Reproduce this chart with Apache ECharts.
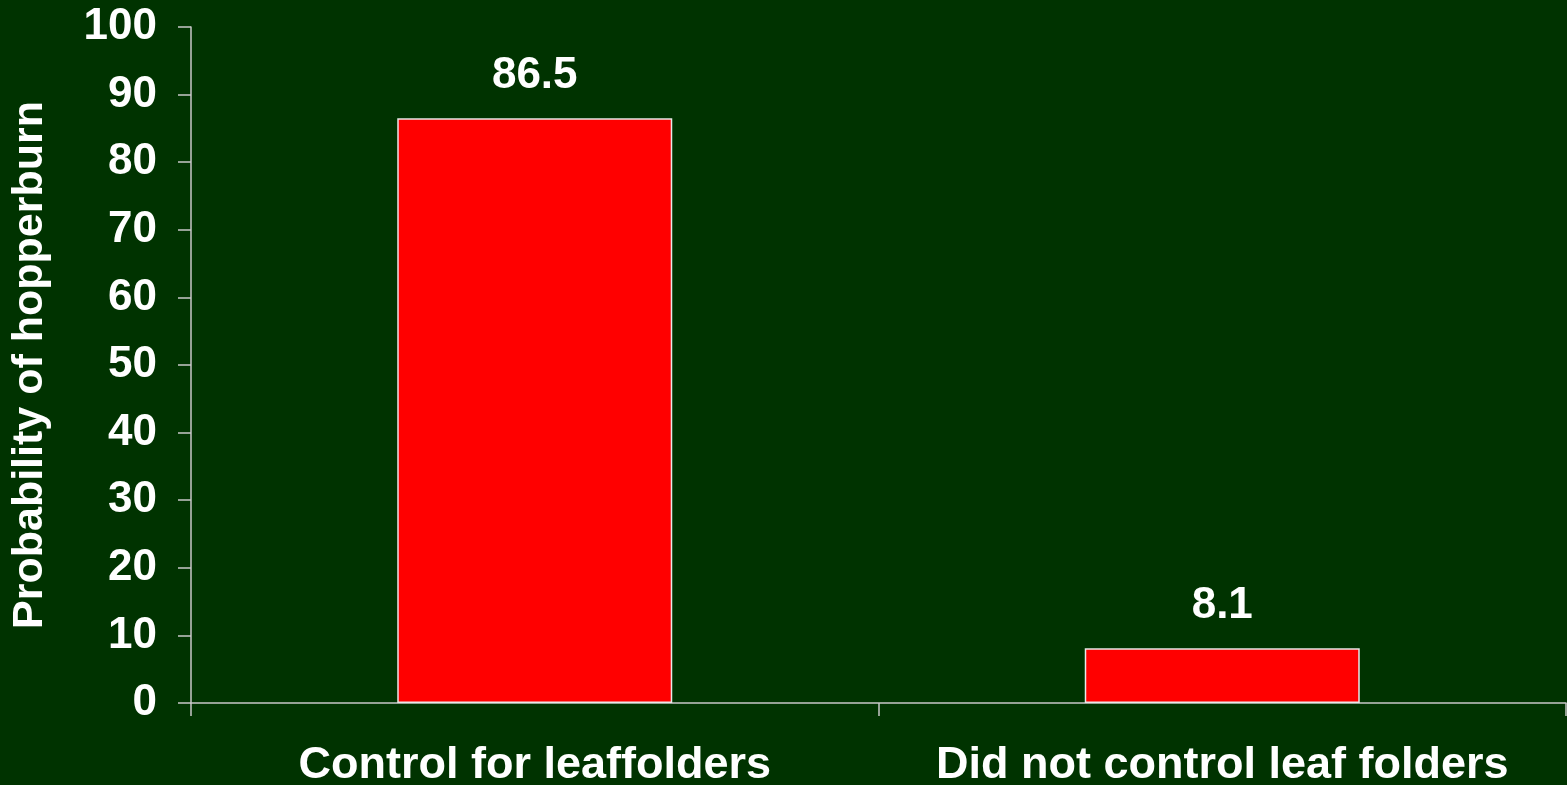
<!DOCTYPE html>
<html>
<head>
<meta charset="utf-8">
<script src="https://cdn.jsdelivr.net/npm/echarts@6/dist/echarts.min.js"></script>
<style>
  html, body { margin: 0; padding: 0; background: #003300; }
  #chart { width: 1567px; height: 785px; }
</style>
</head>
<body>
<div id="chart"></div>
<script>
// Hopperburn probability by leaffolder treatment
const categories = ['Control for leaffolders', 'Did not control leaf folders'];
const probability = [86.5, 8.1];
const yTitle = 'Probability of hopperburn';

const FONT = '"Liberation Sans", Arial, sans-serif';
const AXIS_COLOR = '#c8c8c8';

const chart = echarts.init(document.getElementById('chart'));
chart.setOption({
  backgroundColor: '#003300',
  animation: false,
  grid: { left: 191, right: 1, top: 27, bottom: 82, containLabel: false, outerBoundsMode: 'none' },
  xAxis: {
    type: 'category',
    data: categories,
    boundaryGap: true,
    axisLine: { lineStyle: { color: AXIS_COLOR, width: 1.5 } },
    axisTick: { show: true, length: 13, alignWithLabel: false, lineStyle: { color: AXIS_COLOR, width: 1.5 } },
    axisLabel: { interval: 0, color: '#ffffff', fontFamily: FONT, fontWeight: 'bold', fontSize: 45, margin: 40 }
  },
  yAxis: {
    type: 'value',
    min: 0,
    max: 100,
    interval: 10,
    name: yTitle,
    nameLocation: 'middle',
    nameRotate: 90,
    nameGap: 139,
    nameTextStyle: { color: '#ffffff', fontFamily: FONT, fontWeight: 'bold', fontSize: 43 },
    splitLine: { show: false },
    axisLine: { show: true, lineStyle: { color: AXIS_COLOR, width: 1.5 } },
    axisTick: { show: true, length: 13, lineStyle: { color: AXIS_COLOR, width: 1.5 } },
    axisLabel: { color: '#ffffff', fontFamily: FONT, fontWeight: 'bold', fontSize: 44, margin: 34 }
  },
  series: [{
    type: 'bar',
    data: probability,
    barWidth: '40%',
    itemStyle: { color: '#ff0000', borderColor: '#e8e8e8', borderWidth: 1.5 },
    label: {
      show: true,
      position: 'top',
      distance: 20,
      color: '#ffffff',
      fontFamily: FONT,
      fontWeight: 'bold',
      fontSize: 44,
      formatter: p => p.value.toFixed(1)
    }
  }]
});
</script>
</body>
</html>
